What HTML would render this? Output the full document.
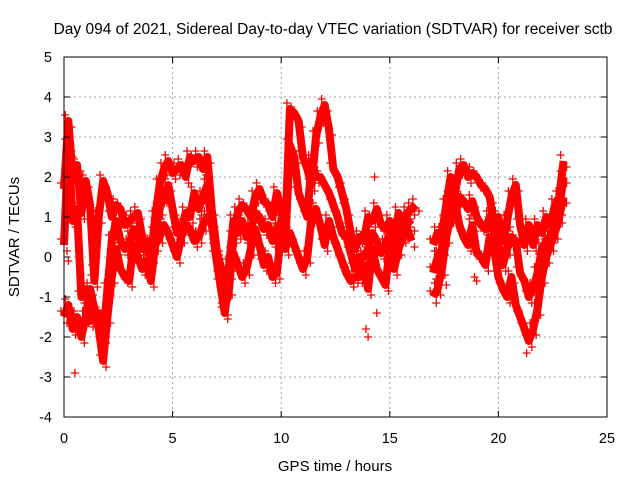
<!DOCTYPE html>
<html><head><meta charset="utf-8"><style>
body{margin:0;background:#fff}
svg{display:block;font-family:"Liberation Sans",sans-serif}
</style></head><body>
<svg id="chart" width="640" height="480" viewBox="0 0 640 480">
<rect width="640" height="480" fill="#fff"/>
<text x="333" y="34" text-anchor="middle" font-size="15.5">Day 094 of 2021, Sidereal Day-to-day VTEC variation (SDTVAR) for receiver sctb</text>
<g id="grid"></g>
<g id="marks"></g>
<rect x="64" y="57" width="543" height="360" fill="none" stroke="#000" stroke-width="1"/>
<g id="ticks"></g>
<text x="335" y="471" text-anchor="middle" font-size="15">GPS time / hours</text>
<text transform="translate(19,237) rotate(-90)" text-anchor="middle" font-size="15">SDTVAR / TECUs</text>
</svg>
<script>
const xTicks=[0,5,10,15,20,25];
const yTicks=[-4,-3,-2,-1,0,1,2,3,4,5];
const step=0.2;
const upperStrand=[1.7,3.4,2.0,2.3,1.1,1.9,1.3,-0.6,1.0,1.9,1.6,1.0,1.3,1.2,0.8,0.9,1.0,1.1,0.5,0.2,0.0,1.0,1.8,2.2,2.4,2.1,2.2,2.3,2.0,2.5,2.4,2.5,2.2,2.5,1.2,0.3,-0.5,-1.3,-0.8,0.5,1.1,1.3,1.2,1.0,1.5,1.7,1.4,1.3,1.0,1.6,1.2,0.8,3.7,3.6,3.4,2.5,2.2,1.8,3.0,3.5,3.8,3.2,2.2,2.0,1.6,1.2,0.6,0.2,0.5,0.4,1.0,0.9,1.2,0.8,0.7,0.9,0.5,1.1,0.9,1.1,1.2,1.3,null,null,null,0.3,0.6,0.6,1.3,2.0,1.6,2.2,2.3,2.0,2.1,2.0,1.8,1.7,1.5,0.8,1.0,0.4,0.9,1.5,1.8,0.8,0.3,0.8,0.3,0.8,0.6,1.0,0.8,1.3,1.5,2.4];
const lowerStrand=[-1.5,-1.2,-1.8,-1.5,-2.0,-1.5,-0.8,-1.3,-1.8,-2.6,-1.5,-0.5,0.2,-0.3,-0.5,-0.6,0.3,0.0,-0.3,-0.1,-0.6,0.3,0.5,0.8,0.6,0.3,0.0,0.5,0.8,0.7,0.4,0.5,0.8,1.0,0.9,0.0,-0.7,-1.4,-0.4,0.1,-0.2,-0.5,-0.3,0.2,0.7,0.3,-0.2,0.0,-0.5,-0.4,0.6,0.2,0.6,0.3,0.0,-0.3,0.0,1.0,1.2,0.8,0.3,0.9,0.5,0.2,-0.1,-0.4,-0.6,-0.5,-0.5,-0.2,-0.8,0.2,-0.3,-0.5,-0.7,0.2,-0.3,0.2,0.5,0.7,0.4,null,null,null,null,-1.0,-0.8,-0.3,0.5,1.0,1.4,0.8,0.5,0.3,0.8,0.1,0.0,-0.2,0.5,0.2,-0.5,-0.8,-1.0,-0.5,-1.2,-1.5,-1.8,-2.1,-1.8,-1.3,-0.5,0.0,0.3,0.6,1.0,1.5];
const middleStrand=[0.3,2.8,0.9,1.2,-1.0,-0.8,-1.6,-1.5,-1.4,-2.0,-0.8,0.4,0.9,0.4,0.2,0.3,0.7,0.5,0.2,0.4,0.3,0.6,1.2,1.5,1.8,1.2,0.6,0.7,1.1,1.0,1.6,1.2,1.5,1.8,0.8,0.2,-0.2,-0.9,-0.2,0.9,0.6,0.9,0.5,0.7,1.1,1.0,0.7,0.8,0.4,0.6,0.9,0.5,2.8,2.5,1.6,1.3,1.0,2.4,2.0,2.0,1.8,1.6,1.3,1.0,0.6,0.5,0.1,-0.3,0.0,0.0,0.2,0.6,0.4,0.1,0.3,0.6,0.1,0.6,0.8,0.9,0.8,null,null,null,null,-0.4,0.0,0.2,0.9,1.5,1.0,1.5,1.4,1.2,1.4,1.0,0.8,0.7,1.0,0.6,0.3,-0.2,0.2,0.5,0.4,-0.4,-0.6,-1.0,-0.8,-0.4,0.2,0.4,0.5,0.9,1.2,2.0];
const outlierTimes=[0.5,0.2,14.0,14.4,14.3,18.9,1.3,0.4,17.6,19.0,21.3,13.9];
const outlierValues=[-2.9,-0.1,-2.0,-1.4,2.0,-0.5,-0.2,2.5,-0.7,-0.6,-2.4,-1.8];

const NS="http://www.w3.org/2000/svg";
const xs=t=>64+t*(543/25);
const ys=v=>257-v*40;
const grid=document.getElementById('grid'),ticks=document.getElementById('ticks'),marks=document.getElementById('marks'),svg=document.getElementById('chart');
function ln(p,x1,y1,x2,y2,st,dash,w){const l=document.createElementNS(NS,'line');l.setAttribute('x1',x1);l.setAttribute('y1',y1);l.setAttribute('x2',x2);l.setAttribute('y2',y2);l.setAttribute('stroke',st);if(dash)l.setAttribute('stroke-dasharray',dash);l.setAttribute('stroke-width',w||1);p.appendChild(l);return l;}
xTicks.forEach(t=>{const x=xs(t);
 if(t>0&&t<25){const g=ln(grid,x,57,x,417,'#a0a0a0','2,3');
 
 }
 ln(ticks,x,417,x,411,'#000');ln(ticks,x,57,x,63,'#000');
 const tx=document.createElementNS(NS,'text');tx.setAttribute('x',x);tx.setAttribute('y',443);tx.setAttribute('text-anchor','middle');tx.setAttribute('font-size','14.5');tx.textContent=t;
 
 
 svg.appendChild(tx);});
yTicks.forEach(v=>{const y=ys(v);
 if(v>-4&&v<5){const g=ln(grid,64,y,607,y,'#a0a0a0','2,3');
 
 }
 ln(ticks,64,y,70,y,'#000');ln(ticks,607,y,601,y,'#000');
 const tx=document.createElementNS(NS,'text');tx.setAttribute('x',52);tx.setAttribute('y',y+5);tx.setAttribute('text-anchor','end');tx.setAttribute('font-size','14.5');tx.textContent=v;
 
 
 svg.appendChild(tx);});
function plus(x,y){const p=document.createElementNS(NS,'path');p.setAttribute('d',`M${x-4} ${y}h8M${x} ${y-4}v8`);p.setAttribute('stroke','#f00');p.setAttribute('stroke-width','1.3');p.setAttribute('fill','none');
 
 
 marks.appendChild(p);}
function strand(vals,name){let d='';let pen=false;
 vals.forEach((v,i)=>{if(v===null){pen=false;return;}const x=xs(i*step),y=ys(v);d+=(pen?'L':'M')+x+' '+y;pen=true;plus(x-3,y-6);plus(x+3,y+6);});
 const p=document.createElementNS(NS,'path');p.setAttribute('d',d);p.setAttribute('stroke','#f00');p.setAttribute('stroke-width','8');p.setAttribute('fill','none');p.setAttribute('stroke-linejoin','round');
 
 
 marks.appendChild(p);}
strand(upperStrand,'upper-strand');
strand(lowerStrand,'lower-strand');
strand(middleStrand,'middle-strand');
outlierTimes.forEach((t,i)=>plus(xs(t),ys(outlierValues[i])));
</script>
</body></html>
